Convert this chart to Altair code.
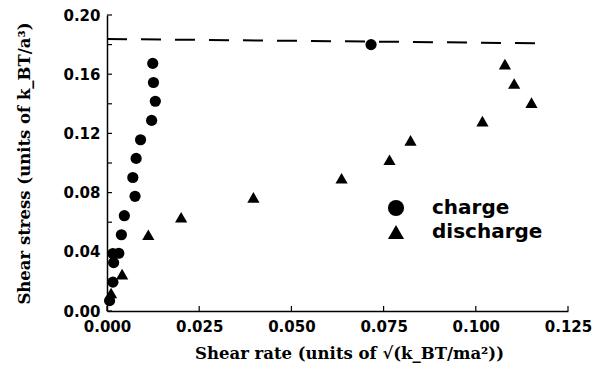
import altair as alt
import pandas as pd

# ---- data ----
charge_x = [0.0007, 0.0016, 0.0018, 0.0016, 0.0032, 0.0039, 0.0047, 0.0076, 0.0070,
            0.0079, 0.0091, 0.0121, 0.0131, 0.0126, 0.0124, 0.0716]
charge_y = [0.0070, 0.0195, 0.0327, 0.0388, 0.0390, 0.0515, 0.0644, 0.0775, 0.0902,
            0.1031, 0.1157, 0.1288, 0.1417, 0.1544, 0.1673, 0.1800]

discharge_x = [0.0011, 0.0041, 0.0112, 0.0201, 0.0397, 0.0636, 0.0766, 0.0823,
               0.1018, 0.1079, 0.1104, 0.1151]
discharge_y = [0.0122, 0.0249, 0.0515, 0.0633, 0.0768, 0.0897, 0.1022, 0.1153,
               0.1283, 0.1668, 0.1537, 0.1408]

limit_x = [0.0, 0.1173]
limit_y = [0.1838, 0.1809]

series_names = ["charge", "discharge"]
x_ticks = [0.0, 0.025, 0.05, 0.075, 0.1, 0.125]
y_labels = [0.0, 0.04, 0.08, 0.12, 0.16, 0.20]
y_ticks = [0.0, 0.02, 0.04, 0.06, 0.08, 0.10, 0.12, 0.14, 0.16, 0.18, 0.20]

x_title = "Shear rate (units of √(k_BT/ma²))"
y_title = "Shear stress (units of k_BT/a³)"

# ---- layout ----
W, H = 461, 296

charge = pd.DataFrame({"rate": charge_x, "stress": charge_y, "series": series_names[0]})
discharge = pd.DataFrame({"rate": discharge_x, "stress": discharge_y, "series": series_names[1]})
limit = pd.DataFrame({"rate": limit_x, "stress": limit_y})
xt = pd.DataFrame({"rate": x_ticks})
yt = pd.DataFrame({"stress": y_ticks})

xscale = alt.Scale(domain=[0, 0.125], nice=False, zero=False)
yscale = alt.Scale(domain=[0, 0.2], nice=False, zero=False)

common_axis = dict(
    ticks=False, grid=False,
    domainColor="black", domainWidth=1.5,
    labelFont="DejaVu Sans", labelFontWeight="bold", labelFontSize=15,
    labelColor="black", labelFlush=False, labelOverlap=False,
    titleFont="DejaVu Serif", titleFontWeight="bold", titleFontSize=16.5,
    titleColor="black",
)
xaxis = alt.Axis(values=x_ticks, format=".3f", title=x_title, titlePadding=11,
                 labelPadding=8.5, titleX=242, **common_axis)
yaxis = alt.Axis(values=y_labels, format=".2f", title=y_title, titlePadding=30,
                 labelPadding=7, **common_axis)

X = alt.X("rate:Q", scale=xscale, axis=xaxis)
Y = alt.Y("stress:Q", scale=yscale, axis=yaxis)

shape_scale = alt.Scale(domain=series_names, range=["circle", "triangle-up"])
legend = alt.Legend(
    orient="none", legendX=279, legendY=183, title=None,
    labelFont="DejaVu Sans", labelFontWeight="bold", labelFontSize=20,
    labelColor="black", symbolSize=260, symbolFillColor="black",
    symbolStrokeColor="black", symbolStrokeWidth=0, symbolOpacity=1,
    labelOffset=26, rowPadding=4,
)

line = alt.Chart(limit).mark_line(color="black", strokeWidth=2, strokeDash=[20, 14]).encode(
    x=X, y=Y,
)

yticks = alt.Chart(yt).mark_rule(color="black", strokeWidth=1.2).encode(
    y=Y, x=alt.value(0), x2=alt.value(5),
)
xticks = alt.Chart(xt).mark_rule(color="black", strokeWidth=1.2).encode(
    x=X, y=alt.value(H), y2=alt.value(H - 5),
)

pts_c = alt.Chart(charge).mark_point(filled=True, color="black", opacity=1, size=125).encode(
    x=X, y=Y,
    shape=alt.Shape("series:N", scale=shape_scale, legend=legend),
)
pts_d = alt.Chart(discharge).mark_point(filled=True, color="black", opacity=1, size=150).encode(
    x=X, y=Y,
    shape=alt.Shape("series:N", scale=shape_scale, legend=legend),
)

chart = alt.layer(line, yticks, xticks, pts_c, pts_d).properties(
    width=W, height=H,
    padding={"left": 107, "top": 15, "right": 27, "bottom": 72},
    autosize=alt.AutoSizeParams(type="none"),
    background="white",
).configure_view(stroke=None)

chart.save("out.html", embed_options={"renderer": "svg", "actions": False})
